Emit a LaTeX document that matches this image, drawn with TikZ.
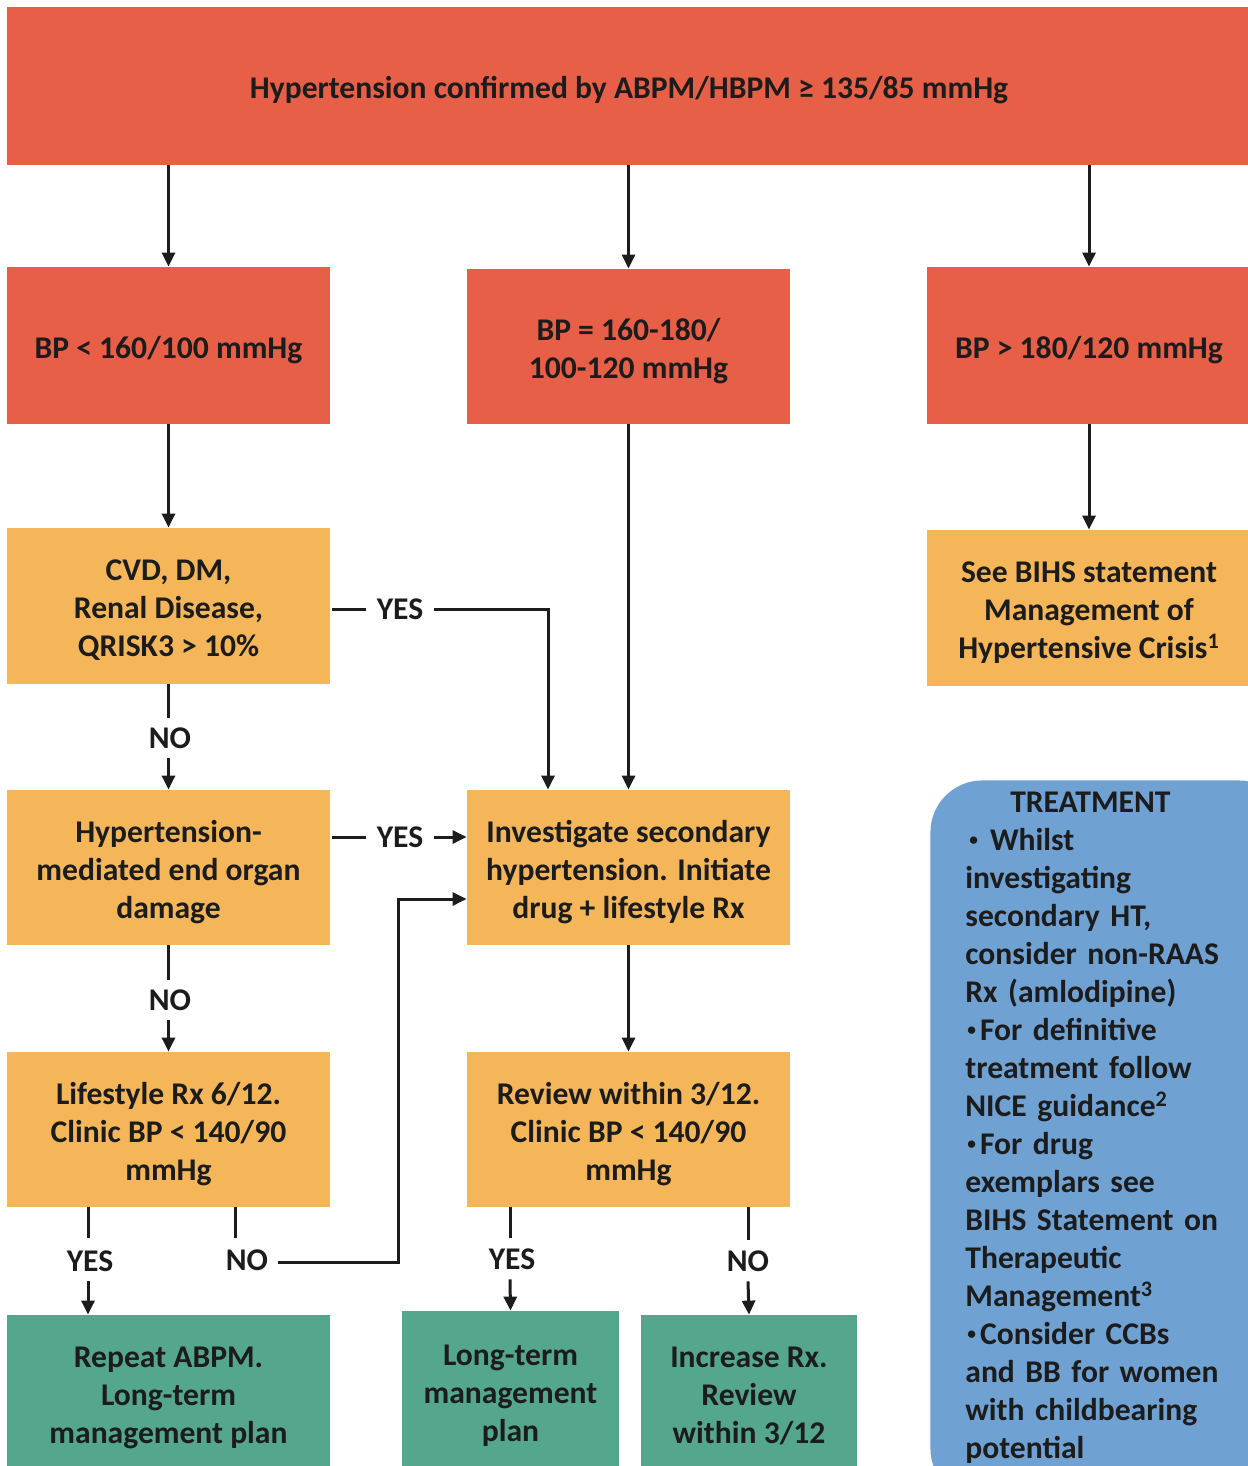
\documentclass[tikz,border=0pt]{standalone}
\usepackage{fontspec}
\setmainfont{Carlito}
\usetikzlibrary{arrows.meta}
\definecolor{cred}{HTML}{E85F48}
\definecolor{corange}{HTML}{F4B658}
\definecolor{cgreen}{HTML}{54A68D}
\definecolor{cblue}{HTML}{6FA1D3}
\definecolor{ctxt}{HTML}{1C1C1C}
\newcommand{\mainfont}{\fontsize{15.8}{19}\selectfont\bfseries}
\newcommand{\smbul}{\raisebox{0.35ex}{\scalebox{0.55}{•}}}
\tikzset{
  box/.style={inner sep=0pt, align=center, font=\mainfont, text=ctxt, text depth=3pt},
  one/.style={text height=15.5pt},
  two/.style={text height=34.5pt},
  three/.style={text height=53.5pt},
  redbox/.style={box, fill=cred},
  orbox/.style={box, fill=corange},
  grbox/.style={box, fill=cgreen},
  lbl/.style={inner xsep=5pt, inner ysep=5pt, text height=10pt, text depth=0pt, font=\mainfont, text=ctxt},
  conn/.style={line width=1.5pt, draw=ctxt},
  arr/.style={conn, -{Triangle[length=7pt,width=6.5pt]}},
}
\begin{document}
\begin{tikzpicture}[x=0.5pt,y=-0.5pt]
\useasboundingbox (0,0) rectangle (1247,1466);
% boxes
\node[redbox, one, minimum width=622pt, minimum height=79pt] (top) at (629,86) {Hypertension confirmed by ABPM/HBPM ≥ 135/85 mmHg};
\node[redbox, one, minimum width=161.5pt, minimum height=78.5pt] (bpl) at (168.5,345.5) {BP < 160/100 mmHg};
\node[redbox, two, minimum width=161.5pt, minimum height=77.5pt] (bpm) at (628.5,346.5) {BP = 160-180/\\100-120 mmHg};
\node[redbox, one, minimum width=162pt, minimum height=78.5pt] (bpr) at (1089,345.5) {BP > 180/120 mmHg};
\node[orbox, three, minimum width=161.5pt, minimum height=78pt] (cvd) at (168.5,606) {CVD,\ DM,\\Renal Disease,\\QRISK3 > 10\%};
\node[orbox, three, minimum width=162pt, minimum height=78pt] (crisis) at (1089,608) {See BIHS statement\\Management of\\Hypertensive Crisis\textsuperscript{1}};
\node[orbox, three, minimum width=161.5pt, minimum height=77.5pt] (hmod) at (168.5,867.5) {Hypertension-\\mediated end organ\\damage};
\node[orbox, three, minimum width=161.5pt, minimum height=77.5pt] (inv) at (628.5,867.5) {Investigate secondary\\hypertension. Initiate\\drug + lifestyle Rx};
\node[orbox, three, minimum width=161.5pt, minimum height=77.5pt] (life) at (168.5,1129.5) {Lifestyle Rx 6/12.\\Clinic BP < 140/90\\mmHg};
\node[orbox, three, minimum width=161.5pt, minimum height=77.5pt] (rev) at (628.5,1129.5) {Review within 3/12.\\Clinic BP < 140/90\\mmHg};
\node[grbox, three, minimum width=161.5pt, minimum height=77.5pt] (rep) at (168.5,1392.5) {Repeat ABPM.\\Long-term\\management plan};
\node[grbox, three, minimum width=108.5pt, minimum height=79.5pt] (ltm) at (510.5,1390.5) {Long-term\\management\\plan};
\node[grbox, three, minimum width=108pt, minimum height=77.5pt] (inc) at (749,1392.5) {Increase Rx.\\Review\\within 3/12};
% treatment
\node[fill=cblue, rounded corners=26pt, minimum width=180pt, minimum height=360pt, inner sep=0pt, anchor=north west] (trbox) at (930,780) {};
\node[anchor=north west, inner sep=0pt, align=left, font=\mainfont, text=ctxt, text width=150pt] (trtext) at (965,792) {%
\makebox[125pt][c]{TREATMENT}\\
\hspace*{2pt}\smbul\hspace*{6pt}Whilst\\
investigating\\
secondary HT,\\
consider non-RAAS\\
Rx (amlodipine)\\
\hspace*{1pt}\smbul\hspace*{2pt}For definitive\\
treatment follow\\
NICE guidance\textsuperscript{2}\\
\hspace*{1pt}\smbul\hspace*{2pt}For drug\\
exemplars see\\
BIHS Statement on\\
Therapeutic\\
Management\textsuperscript{3}\\
\hspace*{1pt}\smbul\hspace*{2pt}Consider CCBs\\
and BB for women\\
with childbearing\\
potential};
% labels
\node[lbl] (y1) at (400,609) {YES};
\node[lbl] (n1) at (170,738) {NO};
\node[lbl] (y2) at (400,837) {YES};
\node[lbl] (n2) at (170,1000) {NO};
\node[lbl] (y3) at (90,1261) {YES};
\node[lbl] (n3) at (247,1260) {NO};
\node[lbl] (y4) at (512,1259) {YES};
\node[lbl] (n4) at (748,1261) {NO};
\coordinate (c1) at (548,609);
\coordinate (c3) at (235,1238);
\coordinate (c4) at (398,1262);
\coordinate (c5) at (88,1238);
\coordinate (c6) at (510,1238);
\coordinate (c7) at (748,1240);
% connectors
\draw[arr] (top.south -| bpl) -- (bpl.north);
\draw[arr] (top.south -| bpm) -- (bpm.north);
\draw[arr] (top.south -| bpr) -- (bpr.north);
\draw[arr] (bpl) -- (cvd.north) ;
\draw[arr] (bpm.south) -- (inv.north);
\draw[arr] (bpr.south) -- (crisis.north);
\draw[conn] ([xshift=1pt]cvd.east |- y1.west) -- (y1.west);
\draw[arr] (y1.east) -- (c1) -- (c1 |- inv.north);
\draw[conn] (cvd.south) -- (cvd.south |- n1.north);
\draw[arr] (n1.south -| cvd.south) -- (hmod.north);
\draw[conn] ([xshift=1pt]hmod.east |- y2.west) -- (y2.west);
\draw[arr] (y2.east) -- (inv.west |- y2);
\draw[conn] (hmod.south) -- (hmod.south |- n2.north);
\draw[arr] (n2.south -| hmod.south) -- (life.north);
\draw[arr] (inv.south) -- (rev.north);
\draw[conn] (life.south -| c5) -- (c5);
\draw[arr] (y3.south -| c5) -- (rep.north -| c5);
\draw[conn] (life.south -| c3) -- (c3);
\draw[arr] (n3.east |- c4) -- (c4) |- ([yshift=-15.75pt]inv.west);
\draw[conn] (rev.south -| c6) -- (c6);
\draw[arr] (y4.south -| c6) -- (ltm.north);
\draw[conn] (rev.south -| c7) -- (c7);
\draw[arr] (n4.south -| c7) -- (inc.north);
\end{tikzpicture}
\end{document}
